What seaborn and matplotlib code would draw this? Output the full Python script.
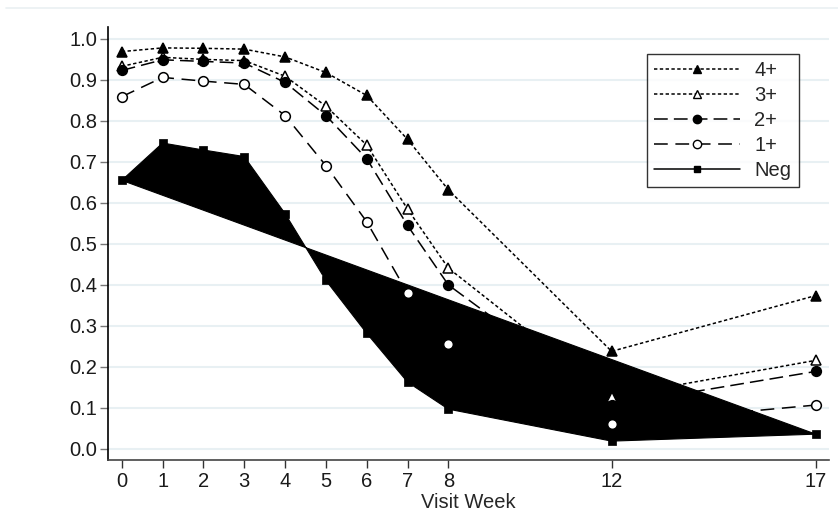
import matplotlib
matplotlib.use("Agg")
import matplotlib.pyplot as plt
import seaborn as sns
import pandas as pd
from matplotlib.lines import Line2D

# --- data ---
weeks = [0, 1, 2, 3, 4, 5, 6, 7, 8, 12, 17]
grp_4p = [0.969, 0.978, 0.977, 0.975, 0.956, 0.918, 0.862, 0.755, 0.632, 0.238, 0.374]
grp_3p = [0.933, 0.955, 0.950, 0.947, 0.909, 0.836, 0.741, 0.585, 0.441, 0.127, 0.216]
grp_2p = [0.923, 0.949, 0.945, 0.941, 0.894, 0.813, 0.708, 0.545, 0.400, 0.106, 0.189]
grp_1p = [0.859, 0.906, 0.897, 0.889, 0.813, 0.691, 0.554, 0.380, 0.255, 0.061, 0.107]
grp_neg = [0.655, 0.746, 0.729, 0.713, 0.574, 0.411, 0.282, 0.163, 0.097, 0.019, 0.036]
x_ticks = [0, 1, 2, 3, 4, 5, 6, 7, 8, 12, 17]
y_ticks = [0.0, 0.1, 0.2, 0.3, 0.4, 0.5, 0.6, 0.7, 0.8, 0.9, 1.0]

sns.set_style("white")
plt.rcParams['font.family'] = ['Liberation Sans', 'DejaVu Sans']

fig = plt.figure(figsize=(8.38, 5.26), dpi=100)
ax = fig.add_axes([0.129, 0.1255, 0.860, 0.8232])

# faint line at top of figure
fig.add_artist(Line2D([0.007, 1.0], [0.985, 0.985], color='#eaf0f2', lw=1.2))

for yv in y_ticks:
    ax.axhline(yv, color='#e8f0f3', lw=1.5, zorder=0)

# Neg series rendered as filled shape
ax.fill(weeks, grp_neg, color='black', lw=0.8, zorder=2)

short_dash = (0, (2.2, 1.6))
series = [
    ('4+', grp_4p, short_dash, '^', 'black'),
    ('3+', grp_3p, short_dash, '^', 'white'),
    ('2+', grp_2p, (0, (9, 4)), 'o', 'black'),
    ('1+', grp_1p, (0, (9, 5)), 'o', 'white'),
]
for name, vals, ls, mk, fc in series:
    df = pd.DataFrame({'week': weeks, 'val': vals})
    sns.lineplot(data=df, x='week', y='val', ax=ax, color='black', lw=1.1,
                 linestyle=ls, marker=mk, markersize=7, markerfacecolor=fc,
                 markeredgecolor='black', markeredgewidth=1.1, zorder=3)

df_neg = pd.DataFrame({'week': weeks, 'val': grp_neg})
sns.scatterplot(data=df_neg, x='week', y='val', ax=ax, marker='s', s=40,
                color='black', edgecolor='black', zorder=4)

ax.set_xlim(-0.335, 17.32)
ax.set_ylim(-0.027, 1.029)
ax.set_xticks(x_ticks)
ax.set_yticks(y_ticks)
ax.set_yticklabels([f'{v:.1f}' for v in y_ticks])
ax.tick_params(axis='both', labelsize=14.5, length=6, width=1,
               direction='out', left=True, bottom=True)
ax.tick_params(axis='y', colors='#777777', labelcolor='#1a1a1a', pad=2)
ax.tick_params(axis='x', colors='#333333', labelcolor='#1a1a1a', pad=3)
ax.set_xlabel('Visit Week', fontsize=14.5, labelpad=1)
ax.set_ylabel('')

sns.despine(ax=ax, top=True, right=True)
ax.spines['left'].set_color('black')
ax.spines['bottom'].set_color('#444444')
ax.spines['left'].set_linewidth(1.2)
ax.spines['bottom'].set_linewidth(1.2)

handles = [
    Line2D([], [], color='black', lw=1.1, ls=short_dash, marker='^', ms=6,
           mfc='black', mec='black'),
    Line2D([], [], color='black', lw=1.1, ls=short_dash, marker='^', ms=6,
           mfc='white', mec='black'),
    Line2D([], [], color='black', lw=1.1, ls=(0, (9, 4)), marker='o', ms=6,
           mfc='black', mec='black'),
    Line2D([], [], color='black', lw=1.1, ls=(0, (9, 5)), marker='o', ms=6,
           mfc='white', mec='black'),
    Line2D([], [], color='black', lw=1.1, ls='-', marker='s', ms=5,
           mfc='black', mec='black'),
]
leg = ax.legend(handles, ['4+', '3+', '2+', '1+', 'Neg'], loc='upper right',
                bbox_to_anchor=(0.958, 0.938), fontsize=14.5, frameon=True,
                fancybox=False, edgecolor='black', handlelength=4.3,
                borderpad=0.35, labelspacing=0.3, handletextpad=0.7,
                borderaxespad=0)
leg.get_frame().set_linewidth(1.0)

fig.savefig('out.png', dpi=100)
